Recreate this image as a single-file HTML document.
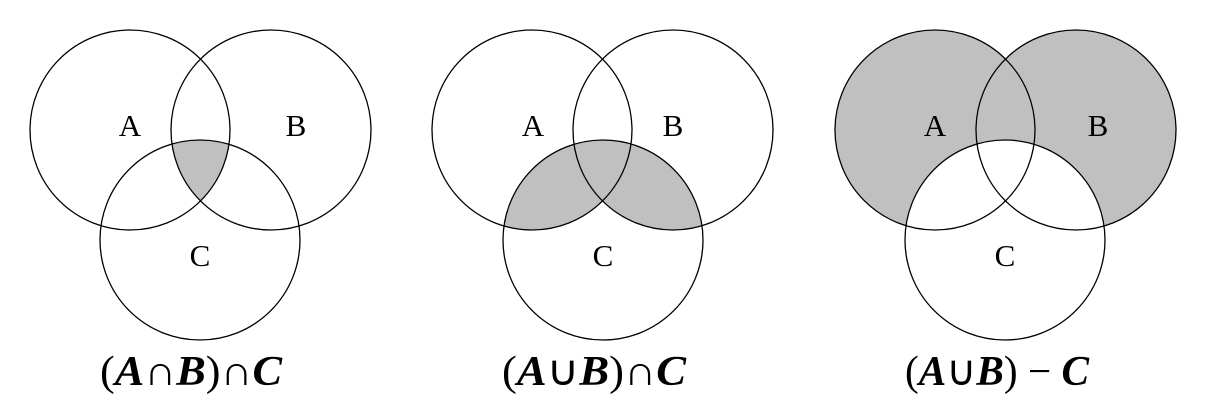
<!DOCTYPE html>
<html><head><meta charset="utf-8"><style>
html,body{margin:0;padding:0;background:#fff;}
svg{display:block}
text{font-family:"Liberation Serif",serif;fill:#000}
</style></head><body>
<svg width="1212" height="412" viewBox="0 0 1212 412" xmlns="http://www.w3.org/2000/svg">
<defs>
<clipPath id="a1"><circle cx="130" cy="130" r="100"/></clipPath>
<clipPath id="b1"><circle cx="271" cy="130" r="100"/></clipPath>
<clipPath id="c2"><circle cx="603" cy="240" r="100"/></clipPath>
</defs>
<g fill="#c0c0c0">
<g clip-path="url(#a1)"><circle cx="200" cy="240" r="100" clip-path="url(#b1)"/></g>
<g clip-path="url(#c2)"><circle cx="532" cy="130" r="100"/><circle cx="673" cy="130" r="100"/></g>
<circle cx="935" cy="130" r="100"/><circle cx="1076" cy="130" r="100"/>
<circle cx="1005" cy="240" r="100" fill="#fff"/>
</g>
<g fill="none" stroke="#000" stroke-width="1.3">
<circle cx="130" cy="130" r="100"/><circle cx="271" cy="130" r="100"/><circle cx="200" cy="240" r="100"/>
<circle cx="532" cy="130" r="100"/><circle cx="673" cy="130" r="100"/><circle cx="603" cy="240" r="100"/>
<circle cx="935" cy="130" r="100"/><circle cx="1076" cy="130" r="100"/><circle cx="1005" cy="240" r="100"/>
</g>
<g font-size="31" text-anchor="middle">
<text x="130" y="136">A</text><text x="296" y="136">B</text><text x="200" y="266">C</text>
<text x="533" y="136">A</text><text x="673" y="136">B</text><text x="603" y="266">C</text>
<text x="935" y="136">A</text><text x="1098" y="136">B</text><text x="1005" y="266">C</text>
</g>
<g font-size="42">
<text x="100" y="385" textLength="182" lengthAdjust="spacingAndGlyphs">(<tspan font-style="italic" font-weight="bold">A</tspan>∩<tspan font-style="italic" font-weight="bold">B</tspan>)∩<tspan font-style="italic" font-weight="bold">C</tspan></text>
<text x="502" y="385" textLength="184" lengthAdjust="spacingAndGlyphs">(<tspan font-style="italic" font-weight="bold">A</tspan>∪<tspan font-style="italic" font-weight="bold">B</tspan>)∩<tspan font-style="italic" font-weight="bold">C</tspan></text>
<text x="905" y="385" textLength="184" lengthAdjust="spacingAndGlyphs">(<tspan font-style="italic" font-weight="bold">A</tspan>∪<tspan font-style="italic" font-weight="bold">B</tspan>) − <tspan font-style="italic" font-weight="bold">C</tspan></text>
</g>
</svg>
</body></html>
